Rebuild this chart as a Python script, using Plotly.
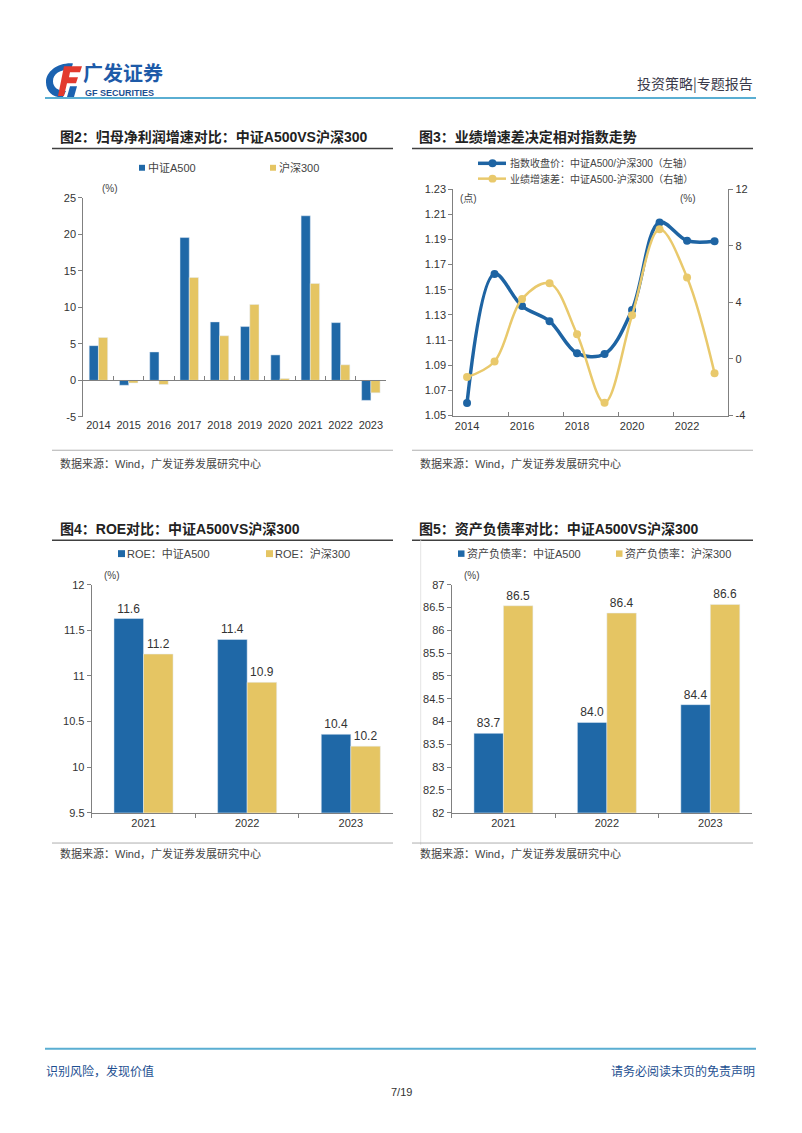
import plotly.graph_objects as go

W, H = 802, 1133
def fx(x): return x / W
def fy(y): return 1 - y / H

MIX = "Liberation Sans, Noto Sans CJK SC"
CN = "Noto Sans CJK SC"
BLUE = "#1f68a7"
GOLD = "#e5c563"
LBLUE = "#1e64a3"
LGOLD = "#e9c96c"
AX = "#808080"
TXT = "#333333"

# ---------------- data ----------------
years = ["2014", "2015", "2016", "2017", "2018", "2019", "2020", "2021", "2022", "2023"]
a500_growth = [4.75, -0.67, 3.89, 19.54, 8.0, 7.36, 3.48, 22.52, 7.9, -2.74]
hs300_growth = [5.87, -0.35, -0.57, 14.08, 6.1, 10.39, 0.25, 13.27, 2.13, -1.70]

ratio_index = [1.060, 1.1626, 1.137, 1.125, 1.0995, 1.099, 1.134, 1.2035, 1.189, 1.1886]
growth_diff = [-1.28, -0.18, 4.24, 5.34, 1.75, -3.09, 3.08, 9.16, 5.76, -1.0]

years3 = ["2021", "2022", "2023"]
roe_a500 = [11.63, 11.40, 10.36]
roe_hs300 = [11.24, 10.93, 10.23]
debt_a500 = [83.74, 83.98, 84.37]
debt_hs300 = [86.54, 86.38, 86.57]

growth_ticks = [-5, 0, 5, 10, 15, 20, 25]
diff_ticks = [-4, 0, 4, 8, 12]

fig = go.Figure()

# ---------------- chart 1 ----------------
w1 = 0.305
fig.add_trace(go.Bar(x=years, y=a500_growth, marker_color=BLUE, width=w1, offset=-w1,
                     xaxis="x", yaxis="y", showlegend=False))
fig.add_trace(go.Bar(x=years, y=hs300_growth, marker_color=GOLD, width=w1, offset=0,
                     xaxis="x", yaxis="y", showlegend=False))
fig.add_trace(go.Scatter(x=years, y=[0] * len(years), mode="markers", marker=dict(opacity=0),
                         xaxis="x5", yaxis="y", hoverinfo="skip", showlegend=False))

# ---------------- chart 2 ----------------
fig.add_trace(go.Scatter(x=years, y=ratio_index, mode="lines+markers",
                         line=dict(color=LBLUE, width=3.5, shape="spline", smoothing=1),
                         marker=dict(size=8, color=LBLUE),
                         xaxis="x2", yaxis="y2", showlegend=False))
fig.add_trace(go.Scatter(x=years, y=growth_diff, mode="lines+markers",
                         line=dict(color=LGOLD, width=2.5, shape="spline", smoothing=1),
                         marker=dict(size=8, color=LGOLD),
                         xaxis="x2", yaxis="y3", showlegend=False))

# ---------------- chart 3 & 4 ----------------
w3 = 0.285
lab = dict(texttemplate="%{y:.1f}", textposition="outside", cliponaxis=False,
           textfont=dict(family=MIX, size=12, color=TXT))
fig.add_trace(go.Bar(x=years3, y=roe_a500, marker_color=BLUE, width=w3, offset=-w3,
                     xaxis="x3", yaxis="y4", showlegend=False, **lab))
fig.add_trace(go.Bar(x=years3, y=roe_hs300, marker_color=GOLD, width=w3, offset=0,
                     xaxis="x3", yaxis="y4", showlegend=False, **lab))
fig.add_trace(go.Bar(x=years3, y=debt_a500, marker_color=BLUE, width=w3, offset=-w3,
                     xaxis="x4", yaxis="y5", showlegend=False, **lab))
fig.add_trace(go.Bar(x=years3, y=debt_hs300, marker_color=GOLD, width=w3, offset=0,
                     xaxis="x4", yaxis="y5", showlegend=False, **lab))

tf = dict(family=MIX, size=11, color=TXT)
common = dict(showgrid=False, zeroline=False, tickfont=tf, linecolor=AX, linewidth=1,
              tickcolor=AX, fixedrange=True, tickangle=0)

d1y = [fy(415.3), fy(193.7)]
y1min, y1max = -5, 25
zero_pos = d1y[0] + (0 - y1min) / (y1max - y1min) * (d1y[1] - d1y[0])

fig.update_layout(
    width=W, height=H, margin=dict(l=0, r=0, t=0, b=0),
    paper_bgcolor="white", plot_bgcolor="rgba(0,0,0,0)",
    barmode="overlay", showlegend=False,
    xaxis=dict(domain=[fx(83.3), fx(386)], anchor="y", type="category", range=[-0.5, 9.5],
               showline=False, ticks="", **common),
    xaxis5=dict(overlaying="x", anchor="free", position=zero_pos, type="category",
                range=[-0.5, 9.5], showline=True, ticks="inside", tickson="boundaries",
                ticklen=4, showticklabels=False, **common),
    yaxis=dict(domain=d1y, anchor="x", range=[y1min, y1max],
               tickmode="array", tickvals=growth_ticks, ticktext=[str(v) for v in growth_ticks],
               showline=True, ticks="outside", ticklen=4, **common),
    xaxis2=dict(domain=[fx(453.3), fx(728.3)], anchor="y2", type="category", range=[-0.5, 9.5],
                dtick=2, tickson="boundaries", ticks="inside", ticklen=4, showline=True, **common),
    yaxis2=dict(domain=[fy(414), fy(185)], anchor="x2", range=[1.05, 1.23], dtick=0.02,
                tick0=1.05, tickformat=".2f", showline=True, ticks="outside", ticklen=4, **common),
    yaxis3=dict(overlaying="y2", side="right", anchor="x2", range=[-4, 12],
                tickmode="array", tickvals=diff_ticks, ticktext=[str(v) for v in diff_ticks],
                showline=True, ticks="outside", ticklen=4, **common),
    xaxis3=dict(domain=[fx(91.7), fx(393.3)], anchor="y4", type="category", range=[-0.5, 2.41],
                tickson="boundaries", ticks="outside", ticklen=4, showline=True, **common),
    yaxis4=dict(domain=[fy(815.3), fy(585)], anchor="x3", range=[9.5, 12], dtick=0.5,
                showline=True, ticks="outside", ticklen=4, **common),
    xaxis4=dict(domain=[fx(451.7), fx(751.7)], anchor="y5", type="category", range=[-0.5, 2.4],
                tickson="boundaries", ticks="outside", ticklen=4, showline=True, **common),
    yaxis5=dict(domain=[fy(815.3), fy(585)], anchor="x4", range=[82, 87], dtick=0.5,
                showline=True, ticks="outside", ticklen=4, **common),
)

# ---------------- helpers ----------------
def txt(s, x, y, size=11, color=TXT, anchor="left", family=MIX, weight="normal"):
    fig.add_annotation(text=s, x=fx(x), y=fy(y), xref="paper", yref="paper",
                       xanchor=anchor, yanchor="middle", showarrow=False,
                       font=dict(family=family, size=size, color=color, weight=weight))

def hline(x0, x1, y, color, width):
    fig.add_shape(type="line", xref="paper", yref="paper", x0=fx(x0), x1=fx(x1),
                  y0=fy(y), y1=fy(y), line=dict(color=color, width=width))

def vline(x, y0, y1, color, width):
    fig.add_shape(type="line", xref="paper", yref="paper", x0=fx(x), x1=fx(x),
                  y0=fy(y0), y1=fy(y1), line=dict(color=color, width=width))

def sq(x, y, s, color):
    fig.add_shape(type="rect", xref="paper", yref="paper", x0=fx(x), x1=fx(x + s),
                  y0=fy(y + s / 2), y1=fy(y - s / 2), line=dict(width=0), fillcolor=color)

def path(cmds):
    out = []
    for c in cmds:
        if isinstance(c, str):
            out.append(c)
        else:
            out.append(f"{fx(c[0]):.5f},{fy(c[1]):.5f}")
    return " ".join(out)

# ---------------- header ----------------
fig.add_shape(type="path", xref="paper", yref="paper", line=dict(width=0), fillcolor="#1b62b0",
              path=path(["M", (73, 58), "C", (58, 57), (46, 66), (46, 77), "C", (46, 87), (54, 93),
                         (63, 92), "L", (66, 86), "C", (58, 86), (53, 82), (53, 76), "C", (53, 69),
                         (60, 64), (71, 64), "Z"]))
fig.add_shape(type="path", xref="paper", yref="paper", line=dict(width=0), fillcolor="#e23a2e",
              path=path(["M", (64, 61), "L", (82, 61), "L", (80, 67), "L", (70, 67), "L", (69, 72),
                         "L", (78, 72), "L", (76, 78), "L", (67, 78), "L", (64, 91), "L", (58, 91), "Z"]))
fig.add_shape(type="path", xref="paper", yref="paper", line=dict(width=0), fillcolor="#1b62b0",
              path=path(["M", (70, 81), "L", (77, 81), "L", (74, 92), "L", (67, 92), "Z"]))
txt("广发证券", 81, 67.5, size=20, color="#1d5aa8", family=CN, weight="bold")
txt("GF SECURITIES", 83, 87.5, size=9, color="#1d4f91", family="Liberation Sans", weight="bold")
txt("投资策略|专题报告", 755, 78, size=14, color="#3a3a4a", anchor="right", family=CN)
hline(45, 756, 93, "#5aaed2", 2)

# ---------------- chart titles ----------------
txt("图2：归母净利润增速对比：中证A500VS沪深300", 58, 132, size=14, color="#222", weight="bold")
txt("图3：业绩增速差决定相对指数走势", 417, 132, size=14, color="#222", weight="bold")
txt("图4：ROE对比：中证A500VS沪深300", 58, 529, size=14, color="#222", weight="bold")
txt("图5：资产负债率对比：中证A500VS沪深300", 417, 529, size=14, color="#222", weight="bold")
for x0, x1 in [(52, 393), (412, 753)]:
    hline(x0, x1, 144, "#404040", 1.5)
    hline(x0, x1, 540, "#404040", 1.5)

# ---------------- legends ----------------
sq(139, 163.5, 6, BLUE); txt("中证A500", 145.5, 163.5, size=11, family=MIX, color="#444")
sq(270, 163.5, 6, GOLD); txt("沪深300", 276.5, 163.5, size=11, family=MIX, color="#444")

hline(478, 506, 159, LBLUE, 3.5)
fig.add_shape(type="circle", xref="paper", yref="paper", x0=fx(488.5), x1=fx(496.5),
              y0=fy(163), y1=fy(155), line=dict(width=0), fillcolor=LBLUE)
txt("指数收盘价：中证A500/沪深300（左轴）", 508, 159, size=10, color="#444")
hline(478, 506, 174.5, LGOLD, 2.5)
fig.add_shape(type="circle", xref="paper", yref="paper", x0=fx(488.5), x1=fx(496.5),
              y0=fy(178.5), y1=fy(170.5), line=dict(width=0), fillcolor=LGOLD)
txt("业绩增速差：中证A500-沪深300（右轴）", 508, 174.5, size=10, color="#444")

sq(118, 553.5, 7, BLUE); txt("ROE：中证A500", 125, 553.5, size=11, color="#444")
sq(266, 553.5, 7, GOLD); txt("ROE：沪深300", 273, 553.5, size=11, color="#444")
sq(458, 553.5, 6.5, BLUE); txt("资产负债率：中证A500", 464.5, 553.5, size=11, color="#444")
sq(616, 553.5, 6.5, GOLD); txt("资产负债率：沪深300", 622.5, 553.5, size=11, color="#444")

# unit labels
txt("(%)", 110, 184.5, size=10, anchor="center", color="#444")
txt("(点)", 468.5, 194.5, size=10, anchor="center", color="#444")
txt("(%)", 688, 194.5, size=10, anchor="center", color="#444")
txt("(%)", 112, 575.5, size=10, anchor="center", color="#444")
txt("(%)", 472, 575.5, size=10, anchor="center", color="#444")

vline(420.7, 540, 848, "#e4e4e4", 1)

# ---------------- sources ----------------
for x0, x1, y in [(52, 393, 449), (412, 753, 449), (52, 393, 846), (412, 753, 846)]:
    hline(x0, x1, y, "#9a9a9a", 0.8)
txt("数据来源：Wind，广发证券发展研究中心", 58, 462, size=11, color="#444")
txt("数据来源：Wind，广发证券发展研究中心", 418, 462, size=11, color="#444")
txt("数据来源：Wind，广发证券发展研究中心", 58, 857, size=11, color="#444")
txt("数据来源：Wind，广发证券发展研究中心", 418, 857, size=11, color="#444")

# ---------------- footer ----------------
hline(45, 756, 1054, "#5aaed2", 2)
txt("识别风险，发现价值", 44, 1076, size=12, color="#1d4f91", family=CN)
txt("请务必阅读末页的免责声明", 757, 1076, size=12, color="#1d4f91", anchor="right", family=CN)
txt("7/19", 401, 1098, size=11, color="#333", anchor="center", family=MIX)

fig.write_html("out.html", config={"displayModeBar": False},
               post_script="document.body.style.margin='0';document.body.style.overflow='hidden';")
